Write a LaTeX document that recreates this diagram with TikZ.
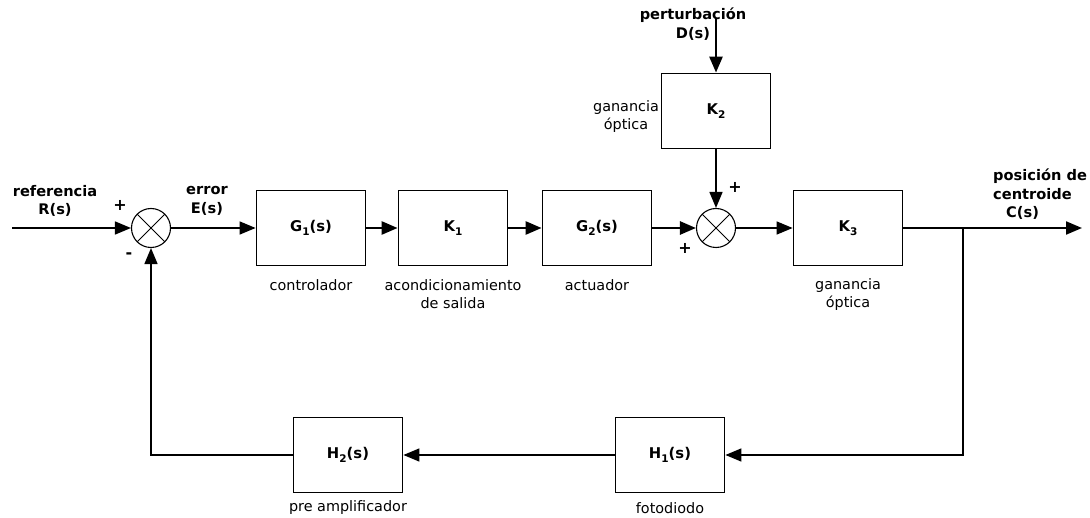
\documentclass[tikz,border=0pt]{standalone}
\usepackage{fontspec}
\setmainfont{DejaVu Sans}
\usetikzlibrary{arrows.meta}
\newcommand\subs[1]{\raisebox{-0.45ex}{\fontsize{10.5}{10.5}\selectfont #1}}
\tikzset{
  block/.style={draw, line width=1.8pt, minimum width=109pt, minimum height=75pt,
    inner sep=0pt, font=\fontsize{14.8}{17}\selectfont\bfseries},
  sumnode/.style={circle, draw, line width=1.1pt, minimum size=39pt, inner sep=0pt,
    path picture={
      \draw[line width=0.8pt] (path picture bounding box.north west) -- (path picture bounding box.south east)
        (path picture bounding box.north east) -- (path picture bounding box.south west);}},
  lbl/.style={font=\fontsize{14.4}{18}\selectfont, align=center, inner sep=0pt},
  blbl/.style={font=\fontsize{14.6}{18.5}\selectfont\bfseries, align=center, inner sep=0pt},
  sign/.style={font=\fontsize{16}{16}\selectfont\bfseries, inner sep=0pt},
  tip/.style={-{Triangle[length=16pt,width=13pt]}},
  thinarrow/.style={tip, line width=1.5pt},
  thickarrow/.style={tip, line width=2.6pt}
}
\begin{document}
\begin{tikzpicture}[x=1pt, y=-1pt]
\useasboundingbox (0,0) rectangle (1090,518);

% forward path
\node[sumnode] (s1) at (151,228) {};
\node[block] (g1) at (311,228) {G\subs{1}(s)};
\node[block] (k1) at (453,228) {K\subs{1}};
\node[block] (g2) at (597,228) {G\subs{2}(s)};
\node[sumnode] (s2) at (716,228) {};
\node[block] (k2) at (716,111) {K\subs{2}};
\node[block] (k3) at (848,228) {K\subs{3}};

% feedback path
\node[block] (h1) at (670,455) {H\subs{1}(s)};
\node[block] (h2) at (348,455) {H\subs{2}(s)};

% free ends and branch point
\coordinate (in) at (12,228);
\coordinate (dist) at (716,18);
\coordinate (out) at (1082,228);
\coordinate (br) at (963,228);

% connectors
\draw[thinarrow] (in) -- (s1.west);
\draw[thinarrow] (s1.east) -- (g1.west);
\draw[thickarrow] (g1.east) -- (k1.west);
\draw[thickarrow] (k1.east) -- (g2.west);
\draw[thickarrow] (g2.east) -- (s2.west);
\draw[thickarrow] (dist) -- (k2.north);
\draw[thinarrow] (k2.south) -- (s2.north);
\draw[thinarrow] (s2.east) -- (k3.west);
\draw[tip, line width=2.2pt] (k3.east) -- (out);
\draw[thinarrow] (br) |- (h1.east);
\draw[thinarrow] (h1.west) -- (h2.east);
\draw[thinarrow] (h2.west) -| (s1.south);

% signal labels
\node[blbl] (tref) at (55,201) {referencia\\R(s)};
\node[blbl] (terr) at (207,201) {error\\E(s)};
\node[blbl] (tdist) at (693,24) {perturbación\\D(s)};
\node[blbl, align=left, anchor=north west] (tout) at (993,169) {posición de\\centroide\\\hspace*{13pt}C(s)};

% signs
\node[sign] (p1) at (120,205) {+};
\node[sign] (m1) at (129,256) {-};
\node[sign] (p2) at (735,187) {+};
\node[sign] (p3) at (685,248) {+};

% block descriptions
\node[lbl] (dg1) at (311,285) {controlador};
\node[lbl] (dk1) at (453,294) {acondicionamiento\\de salida};
\node[lbl] (dg2) at (597,285) {actuador};
\node[lbl] (dk2) at (626,117) {ganancia\\óptica};
\node[lbl] (dk3) at (848,295) {ganancia\\óptica};
\node[lbl] (dh1) at (670,508) {fotodiodo};
\node[lbl] (dh2) at (348,508) {pre amplificador};
\end{tikzpicture}
\end{document}
